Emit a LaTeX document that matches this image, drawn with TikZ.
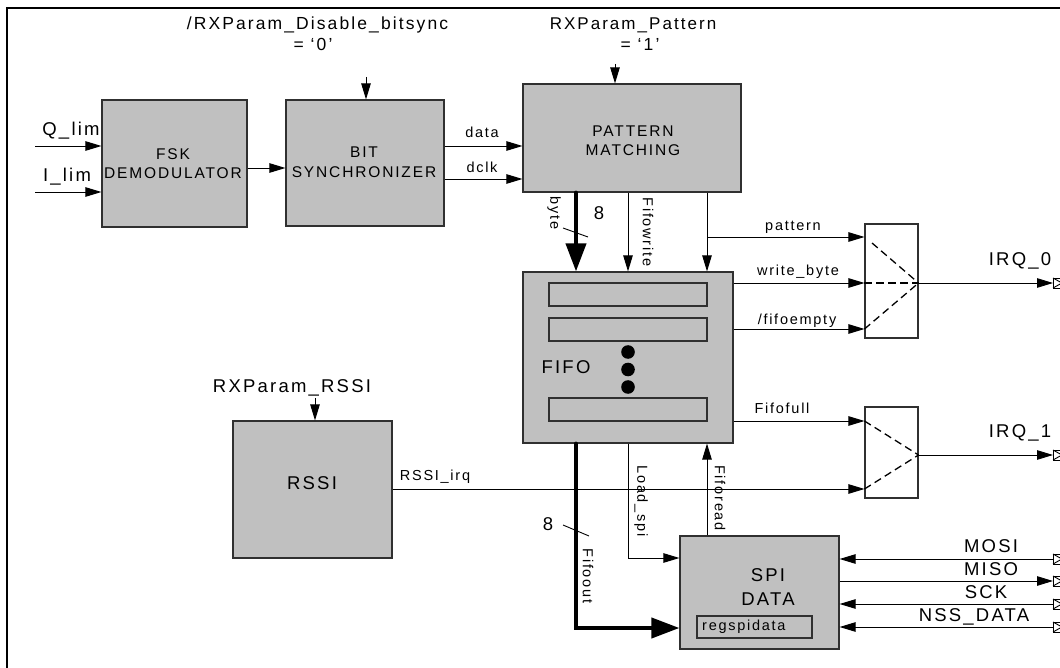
\documentclass[tikz,border=0pt]{standalone}
\usepackage{fontspec}
\setmainfont{Liberation Sans}[LetterSpace=12]
\usetikzlibrary{arrows.meta}
\definecolor{boxgray}{HTML}{C0C0C0}
\definecolor{edge}{HTML}{303030}
\tikzset{
 blk/.style={draw=edge, fill=boxgray, line width=1.2pt, inner sep=0pt},
 reg/.style={draw=edge, fill=boxgray, line width=1.1pt, inner sep=0pt, minimum width=158pt, minimum height=23pt},
 mux/.style={draw=edge, fill=white, line width=1.1pt, inner sep=0pt, minimum width=53pt},
 arr/.style={line width=0.9pt, -{Triangle[length=16pt,width=9.5pt]}},
 bus/.style={line width=4pt, -{Triangle[length=28pt,width=20pt]}},
 dsh/.style={dash pattern=on 7.5pt off 4.5pt, line width=1.3pt},
 big/.style={font=\fontsize{18.5}{22}\selectfont, inner sep=0pt},
 top/.style={font=\fontsize{17.5}{21}\selectfont, inner sep=0pt},
 sml/.style={font=\fontsize{14.5}{17}\selectfont, inner sep=0pt},
 blktxt/.style={font=\fontsize{15.5}{19}\selectfont, align=center, inner sep=0pt},
 bigtxt/.style={font=\fontsize{18.5}{24}\selectfont, align=center, inner sep=0pt},
 portbox/.style={line width=0.9pt}
}
\begin{document}
\begin{tikzpicture}[x=1pt,y=-1pt]
\useasboundingbox (0,0) rectangle (1060,668);
% frame
\draw[line width=1.5pt] (7,668) -- (7,8) -- (1060,8);

% blocks
\node[blk, minimum width=145pt, minimum height=127pt] (fsk) at (174.5,163.5) {};
\node[blktxt] (fsktxt) at (173,164) {FSK\\DEMODULATOR};
\node[blk, minimum width=158pt, minimum height=126pt] (bit) at (365,163) {};
\node[blktxt, font=\fontsize{15.5}{20}\selectfont] (bittxt) at (364,162) {BIT\\SYNCHRONIZER};
\node[blk, minimum width=218pt, minimum height=108pt] (pat) at (632,138) {};
\node[blktxt] (pattxt) at (633,141) {PATTERN\\MATCHING};
\node[blk, minimum width=210pt, minimum height=171pt] (fifo) at (628,357.5) {};
\node[reg] (r1) at (628,294.5) {};
\node[reg] (r2) at (628,329.5) {};
\node[reg] (r3) at (628,409.5) {};
\node[big] (fifotxt) at (566,367) {FIFO};
\fill (628,352) circle (6.8pt);
\fill (628,369.5) circle (6.8pt);
\fill (628,387) circle (6.8pt);
\node[mux, minimum height=114pt] (mux1) at (891.5,281) {};
\node[mux, minimum height=91pt] (mux2) at (891.5,452.5) {};
\node[blk, minimum width=159pt, minimum height=137pt] (rssi) at (312.5,489.5) {};
\node[big] (rssitxt) at (312,483) {RSSI};
\node[blk, minimum width=159pt, minimum height=113pt] (spi) at (759.5,592.5) {};
\node[bigtxt] (spitxt) at (768,587) {SPI\\DATA};
\node[reg, minimum width=115pt, minimum height=22pt] (regs) at (754.5,627) {};
\node[sml, anchor=west] (regstxt) at (702,627) {regspidata};

% helper coordinates
\coordinate (qin) at (35,146);
\coordinate (iin) at (35,192);
\coordinate (ydm) at (0,168);
\coordinate (ydata) at (0,146);
\coordinate (ydclk) at (0,179);
\coordinate (bitin) at (366,77);
\coordinate (patin) at (615,64);
\coordinate (rssiin) at (315,398);
\coordinate (xb) at (576,0);
\coordinate (xw) at (628,0);
\coordinate (xp) at (707,0);
\coordinate (ypat) at (0,237);
\coordinate (ywb) at (0,283);
\coordinate (yfe) at (0,329);
\coordinate (yff) at (0,421);
\coordinate (yri) at (0,489);
\coordinate (yq1) at (0,455);
\coordinate (yfo) at (0,628);
\coordinate (yls) at (0,558);
\coordinate (port0) at (1053,283);
\coordinate (port1) at (1053,455);
\coordinate (pmosi) at (1053,559);
\coordinate (pmiso) at (1053,581);
\coordinate (psck) at (1053,604);
\coordinate (pnss) at (1053,627);

% connectors
\draw[arr] (qin) -- (fsk.west |- qin);
\draw[arr] (iin) -- (fsk.west |- iin);
\draw[arr] (fsk.east |- ydm) -- (bit.west |- ydm);
\draw[arr] (bit.east |- ydata) -- (pat.west |- ydata);
\draw[arr] (bit.east |- ydclk) -- (pat.west |- ydclk);
\draw[arr] (bitin) -- (bit.north -| bitin);
\draw[arr] (patin) -- (pat.north -| patin);
\draw[arr] (rssiin) -- (rssi.north -| rssiin);
\draw[bus, line cap=round] (pat.south -| xb) -- (fifo.north -| xb);
\draw[arr] (pat.south -| xw) -- (fifo.north -| xw);
\draw[arr] (pat.south -| xp) -- (fifo.north -| xp);
\draw[arr] (xp |- ypat) -- (mux1.west |- ypat);
\draw[arr] (fifo.east |- ywb) -- (mux1.west |- ywb);
\draw[arr] (fifo.east |- yfe) -- (mux1.west |- yfe);
\draw[arr] (fifo.east |- yff) -- (mux2.west |- yff);
\draw[arr] (rssi.east |- yri) -- (mux2.west |- yri);
\draw[arr] (mux1.east |- ywb) -- (port0);
\draw[arr] (mux2.east |- yq1) -- (port1);
\draw[bus, line cap=round] (fifo.south -| xb) |- (spi.west |- yfo);
\draw[arr] (fifo.south -| xw) |- (spi.west |- yls);
\draw[arr] (spi.north -| xp) -- (fifo.south -| xp);
\draw[arr] (pmosi) -- (spi.east |- pmosi);
\draw[arr] (spi.east |- pmiso) -- (pmiso);
\draw[arr] (psck) -- (spi.east |- psck);
\draw[arr] (pnss) -- (spi.east |- pnss);

% mux internals
\draw[dsh] (872,243) -- (mux1.east |- ywb);
\draw[dsh] (mux1.west |- ywb) -- (mux1.east |- ywb);
\draw[dsh] (mux1.west |- yfe) -- (mux1.east |- ywb);
\draw[dsh] (mux2.west |- yff) -- (mux2.east |- yq1);
\draw[dsh] (mux2.west |- yri) -- (mux2.east |- yq1);

% ports
\foreach \p in {port0,port1,pmosi,pmiso,psck,pnss}{
  \draw[portbox] ([yshift=5pt]\p) rectangle ([xshift=9pt,yshift=-5pt]\p);
  \draw[portbox] ([yshift=5pt]\p) -- ([xshift=9pt]\p) -- ([yshift=-5pt]\p);
}

% bus width marks
\draw[line width=0.9pt] (563,228) -- (588,237);
\draw[line width=0.9pt] (563,525) -- (589,536);

% labels
\node[top, anchor=base] (lpar1) at (317.5,30) {/RXParam\_Disable\_bitsync};
\node[top, anchor=base] (lpar1b) at (313,51) {= ‘0’};
\node[top, font=\fontsize{17}{20}\selectfont, anchor=base] (lpar2) at (633,30) {RXParam\_Pattern};
\node[top, anchor=base] (lpar2b) at (640,51) {= ‘1’};
\node[big, anchor=base] (lq) at (71,136) {Q\_lim};
\node[big, anchor=base] (li) at (67,182) {I\_lim};
\node[sml, anchor=base] (ldata) at (482,138) {data};
\node[sml, anchor=base] (ldclk) at (482,173) {dclk};
\node[sml, rotate=-90] (lbyte) at (554,213) {byte};
\node[big, anchor=base] (l8a) at (599,220) {8};
\node[sml, rotate=-90] (lfw) at (648,232) {Fifowrite};
\node[sml, anchor=base] (lpat) at (793,231) {pattern};
\node[sml, anchor=base] (lwb) at (798,276) {write\_byte};
\node[sml, anchor=base] (lfe) at (797,324) {/fifoempty};
\node[big, anchor=base] (lirq0) at (1020,266) {IRQ\_0};
\node[sml, anchor=base] (lff) at (782,413) {Fifofull};
\node[big, anchor=base] (lirq1) at (1020,437) {IRQ\_1};
\node[big, anchor=base] (lrp) at (292,392) {RXParam\_RSSI};
\node[sml, anchor=base] (lri) at (435,480) {RSSI\_irq};
\node[sml, rotate=-90] (lls) at (641,501) {Load\_spi};
\node[sml, rotate=-90] (lfr) at (720,498) {Fiforead};
\node[sml, rotate=-90] (lfo) at (588,576) {Fifoout};
\node[big, anchor=base] (l8b) at (548,530) {8};
\node[big, anchor=base] (lmosi) at (991,552) {MOSI};
\node[big, anchor=base] (lmiso) at (991,575) {MISO};
\node[big, anchor=base] (lsck) at (986,598) {SCK};
\node[big, anchor=base] (lnss) at (974,621) {NSS\_DATA};
\end{tikzpicture}
\end{document}
